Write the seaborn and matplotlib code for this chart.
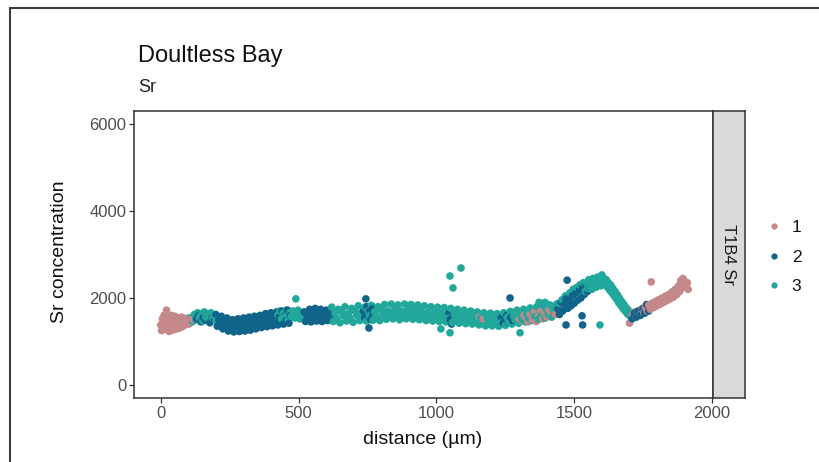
import matplotlib
matplotlib.use("Agg")
import matplotlib.pyplot as plt
from matplotlib.lines import Line2D
import pandas as pd
import seaborn as sns

# ---- Sr transect data, one list pair per zone ----
zone1_dist = [0, 3, 6, 9, 12, 15, 18, 21, 24, 27, 30, 33, 36, 39, 42, 45, 48, 51, 54, 57,
              60, 63, 66, 69, 72, 75, 78, 81, 84, 87, 90, 93, 96, 99, 102, 105, 108, 111, 114, 117,
              1155, 1170,
              1300, 1310, 1318, 1325, 1332, 1340, 1348, 1355, 1362, 1370, 1378, 1385, 1392, 1400,
              1408, 1416, 1424, 1432, 1440,
              1700, 1710, 1718, 1725, 1732, 1740, 1746, 1752, 1758, 1764, 1770, 1776, 1779, 1782,
              1788, 1794, 1800, 1806, 1812, 1818, 1824, 1830, 1836, 1842, 1848, 1854, 1860, 1866,
              1872, 1878, 1882, 1886, 1890, 1894, 1898, 1902, 1906, 1910, 1913]
zone1_sr = [1380, 1250, 1520, 1320, 1600, 1440, 1280, 1720, 1350, 1560, 1230, 1480, 1390, 1600,
            1260, 1500, 1340, 1580, 1280, 1450, 1380, 1540, 1300, 1470, 1400, 1560, 1340, 1480,
            1420, 1530, 1380, 1500, 1440, 1540, 1400, 1480, 1430, 1520, 1460, 1500,
            1560, 1520,
            1520, 1480, 1600, 1550, 1450, 1620, 1500, 1680, 1460, 1580, 1700, 1520, 1640, 1560,
            1720, 1600, 1680, 1620, 1760,
            1420, 1600, 1680, 1560, 1700, 1620, 1760, 1660, 1800, 1700, 1840, 1740, 2370, 1880,
            1780, 1920, 1820, 1960, 1860, 2000, 1900, 2040, 1940, 2080, 1980, 2140, 2020, 2200,
            2080, 2280, 2150, 2400, 2220, 2450, 2300, 2380, 2250, 2350, 2200]

zone2_dist = [130, 138, 146, 154, 162, 170, 178, 186, 194,
              200, 205, 210, 215, 220, 225, 230, 235, 240, 245, 250, 255, 260, 265, 270, 275,
              280, 285, 290, 295, 300, 305, 310, 315, 320, 325, 330, 335, 340, 345, 350, 355,
              360, 365, 370, 375, 380, 385, 390, 395, 400, 405, 410, 415, 420, 425, 430, 435,
              440, 445, 450, 455, 460, 465, 470,
              520, 525, 530, 535, 540, 545, 550, 555, 560, 565, 570, 575, 580, 585, 590, 595,
              600, 605, 610, 615, 620,
              735, 740, 744, 748, 752, 755, 758, 762, 766, 770,
              1045, 1050, 1055, 1058,
              1235, 1242, 1248, 1255, 1260, 1267, 1270, 1276,
              1440, 1446, 1452, 1458, 1464, 1470, 1474, 1470, 1476, 1482, 1488, 1494, 1500,
              1506, 1512, 1518, 1524, 1528, 1530, 1530, 1536, 1542, 1548, 1554,
              1700, 1710, 1718, 1725, 1732, 1740, 1748, 1755, 1762, 1770]
zone2_sr = [1520, 1600, 1450, 1560, 1490, 1620, 1430, 1550, 1500,
            1620, 1350, 1500, 1420, 1580, 1290, 1460, 1350, 1540, 1240, 1420, 1300, 1500, 1220,
            1400, 1330, 1520, 1230, 1420, 1300, 1540, 1240, 1430, 1330, 1560, 1260, 1450, 1360,
            1580, 1290, 1470, 1380, 1600, 1320, 1500, 1400, 1640, 1340, 1520, 1420, 1660, 1360,
            1540, 1440, 1680, 1380, 1560, 1460, 1700, 1400, 1580, 1480, 1720, 1420, 1600,
            1680, 1460, 1600, 1520, 1740, 1450, 1620, 1540, 1760, 1470, 1640, 1550, 1740, 1460,
            1610, 1530, 1720, 1480, 1650, 1560, 1700,
            1700, 1550, 1980, 1800, 1600, 1310, 1700, 1500, 1750, 1620,
            1650, 1500, 1400, 1580,
            1550, 1420, 1500, 1600, 1450, 2000, 1550, 1480,
            1750, 1620, 1900, 1700, 1850, 1380, 2410, 1980, 1760, 1950, 1820, 2060, 1880,
            2120, 1950, 2180, 2000, 1590, 1380, 2250, 2080, 2300, 2150, 2250,
            1600, 1520, 1650, 1560, 1700, 1600, 1750, 1650, 1850, 1700]

zone3_dist = [110, 116, 122, 128, 134, 140, 146, 152, 158, 164, 170, 176, 182, 188, 194, 200,
              425, 432, 438, 444, 450, 456, 462, 468, 474, 480, 486, 490, 492, 498, 504, 510, 516,
              620, 626, 632, 638, 644, 650, 656, 662, 668, 674, 680, 686, 692, 698, 704, 710,
              716, 722, 728, 734, 740, 746, 752, 758, 764, 770, 776, 782, 788, 794, 800, 806,
              812, 818, 824, 830, 836, 842, 848, 854, 860, 866, 872, 878, 884, 890, 896, 902,
              908, 914, 920, 926, 932, 938, 944, 950, 956, 962, 968, 974, 980, 986, 992, 998,
              1004, 1010, 1016, 1022, 1028, 1034, 1040, 1046, 1052, 1058, 1064, 1070, 1076,
              1082, 1088, 1094, 1100, 1106, 1112, 1118, 1124, 1130, 1136, 1142, 1148, 1154,
              1160, 1166, 1172, 1178, 1184, 1190, 1196, 1202, 1208, 1214, 1220, 1226, 1232,
              1238, 1244, 1250, 1256, 1262, 1268, 1274, 1280, 1286, 1292, 1298, 1304, 1310,
              1316, 1322, 1328, 1334, 1340, 1346, 1352, 1358, 1364, 1370, 1376, 1382, 1388,
              1394, 1400, 1406, 1412, 1418, 1424, 1430, 1436,
              1016, 1049, 1049, 1060, 1089, 1303, 1372, 1394, 1593,
              1444, 1456, 1468, 1484, 1496, 1508, 1520, 1532,
              1540, 1544, 1548, 1552, 1556, 1560, 1564, 1568, 1572, 1576, 1580, 1584, 1588,
              1592, 1596, 1600, 1604, 1608, 1612, 1616, 1620, 1624, 1628, 1632, 1636, 1640,
              1644, 1648, 1652, 1656, 1660, 1664, 1668, 1672, 1676, 1680, 1684, 1688, 1692,
              1696, 1700, 1704, 1708]
zone3_sr = [1550, 1460, 1620, 1500, 1660, 1540, 1600, 1470, 1680, 1560, 1620, 1500, 1660, 1540,
            1600, 1480,
            1600, 1700, 1520, 1640, 1560, 1720, 1500, 1660, 1580, 1700, 1540, 1980, 1640, 1720,
            1520, 1660, 1580,
            1790, 1460, 1650, 1530, 1740, 1430, 1680, 1590, 1800, 1470, 1640, 1540, 1760, 1440,
            1700, 1600, 1820, 1480, 1660, 1560, 1790, 1470, 1700, 1590, 1830, 1490, 1680, 1580,
            1800, 1480, 1720, 1620, 1850, 1510, 1700, 1600, 1860, 1520, 1720, 1620, 1840, 1500,
            1700, 1610, 1860, 1520, 1730, 1630, 1850, 1510, 1710, 1600, 1840, 1500, 1700, 1620,
            1820, 1480, 1670, 1580, 1800, 1470, 1660, 1560, 1790, 1460, 1650, 1550, 1780, 1450,
            1640, 1540, 1760, 1440, 1620, 1520, 1740, 1420, 1600, 1500, 1720, 1410, 1590, 1490,
            1700, 1400, 1570, 1480, 1680, 1380, 1540, 1450, 1660, 1360, 1530, 1440, 1650, 1360,
            1520, 1430, 1640, 1350, 1520, 1440, 1660, 1370, 1550, 1460, 1690, 1400, 1580, 1490,
            1720, 1420, 1600, 1510, 1740, 1450, 1630, 1540, 1770, 1480, 1660, 1570, 1800, 1510,
            1690, 1600, 1820, 1540, 1720, 1620, 1840, 1560, 1740, 1650, 1860,
            1290, 1200, 2505, 2230, 2690, 1200, 1900, 1900, 1380,
            1880, 1960, 2050, 2120, 2200, 2240, 2300, 2350,
            2150, 2350, 2220, 2420, 2260, 2380, 2200, 2450, 2300, 2400, 2250, 2480, 2330,
            2420, 2280, 2530, 2350, 2450, 2300, 2420, 2250, 2350, 2180, 2300, 2120, 2220,
            2050, 2150, 1980, 2080, 1900, 2000, 1830, 1920, 1760, 1850, 1700, 1780, 1640,
            1720, 1600, 1660, 1550]

zone_labels = ["1", "2", "3"]
zone_colors = ["#C4888A", "#10648A", "#22A89B"]
y_ticks = [0, 2000, 4000, 6000]
x_ticks = [0, 500, 1000, 1500, 2000]

frames = []
for lab, d, v in zip(zone_labels, [zone1_dist, zone2_dist, zone3_dist],
                     [zone1_sr, zone2_sr, zone3_sr]):
    frames.append(pd.DataFrame({"distance": d, "Sr": v, "zone": lab}))
df = pd.concat(frames, ignore_index=True).sort_values("distance", kind="stable")

sns.set_style("white")
plt.rcParams["font.family"] = ["Liberation Sans", "DejaVu Sans"]

W, H = 819, 462
fig = plt.figure(figsize=(W / 100, H / 100), dpi=100)


def fx(px):
    return px / W


def fy(py):
    return 1 - py / H


# panel
ax = fig.add_axes([fx(134), fy(398), fx(713) - fx(134), fy(111) - fy(398)])
palette = dict(zip(zone_labels, zone_colors))
sns.scatterplot(data=df, x="distance", y="Sr", hue="zone", palette=palette,
                hue_order=zone_labels, s=30, linewidth=0, alpha=1, legend=False, ax=ax)
ax.set_xlim(-97, 2003)
ax.set_ylim(-300, 6300)
ax.set_xticks(x_ticks)
ax.set_yticks(y_ticks)
ax.set_xlabel("")
ax.set_ylabel("")
for sp in ax.spines.values():
    sp.set_visible(True)
    sp.set_color("#333333")
    sp.set_linewidth(1.1)
ax.tick_params(axis="both", which="major", length=3.5, width=0.9, color="#333333",
               labelsize=12, labelcolor="#4D4D4D", pad=2, direction="out",
               bottom=True, left=True)

# facet strip
sax = fig.add_axes([fx(713), fy(398), fx(745) - fx(713), fy(111) - fy(398)])
sax.set_facecolor("#D9D9D9")
sax.set_xticks([])
sax.set_yticks([])
for sp in sax.spines.values():
    sp.set_visible(True)
    sp.set_color("#333333")
    sp.set_linewidth(1.1)
sax.text(0.5, 0.5, "T1B4 Sr", rotation=-90, ha="center", va="center",
         fontsize=12, color="#1A1A1A", transform=sax.transAxes)

# titles and axis labels
fig.text(fx(138), fy(56), "Doultless Bay", ha="left", va="center", fontsize=17,
         color="#111111")
fig.text(fx(138), fy(88), "Sr", ha="left", va="center", fontsize=13, color="#222222")
fig.text(fx(60), fy(252), "Sr concentration", rotation=90, ha="center", va="center",
         fontsize=14, color="#111111")
fig.text(fx(423), fy(440), "distance (\u00b5m)", ha="center", va="center",
         fontsize=14, color="#111111")

# legend
handles = [Line2D([0], [0], marker="o", linestyle="", markersize=4.5,
                  markerfacecolor=c, markeredgewidth=0) for c in zone_colors]
fig.legend(handles, zone_labels, loc="center left",
           bbox_to_anchor=(fx(750), fy(257)), bbox_transform=fig.transFigure,
           frameon=False, fontsize=12.5, labelspacing=0.85, handletextpad=0.5,
           handlelength=1.0, labelcolor="#111111")

# outer frame
fig.add_artist(Line2D([fx(10), fx(10)], [fy(8), 0], color="#3A3A3A", lw=1.5,
                      transform=fig.transFigure))
fig.add_artist(Line2D([fx(10), 1], [fy(8), fy(8)], color="#3A3A3A", lw=1.5,
                      transform=fig.transFigure))

fig.savefig("out.png", dpi=100)
